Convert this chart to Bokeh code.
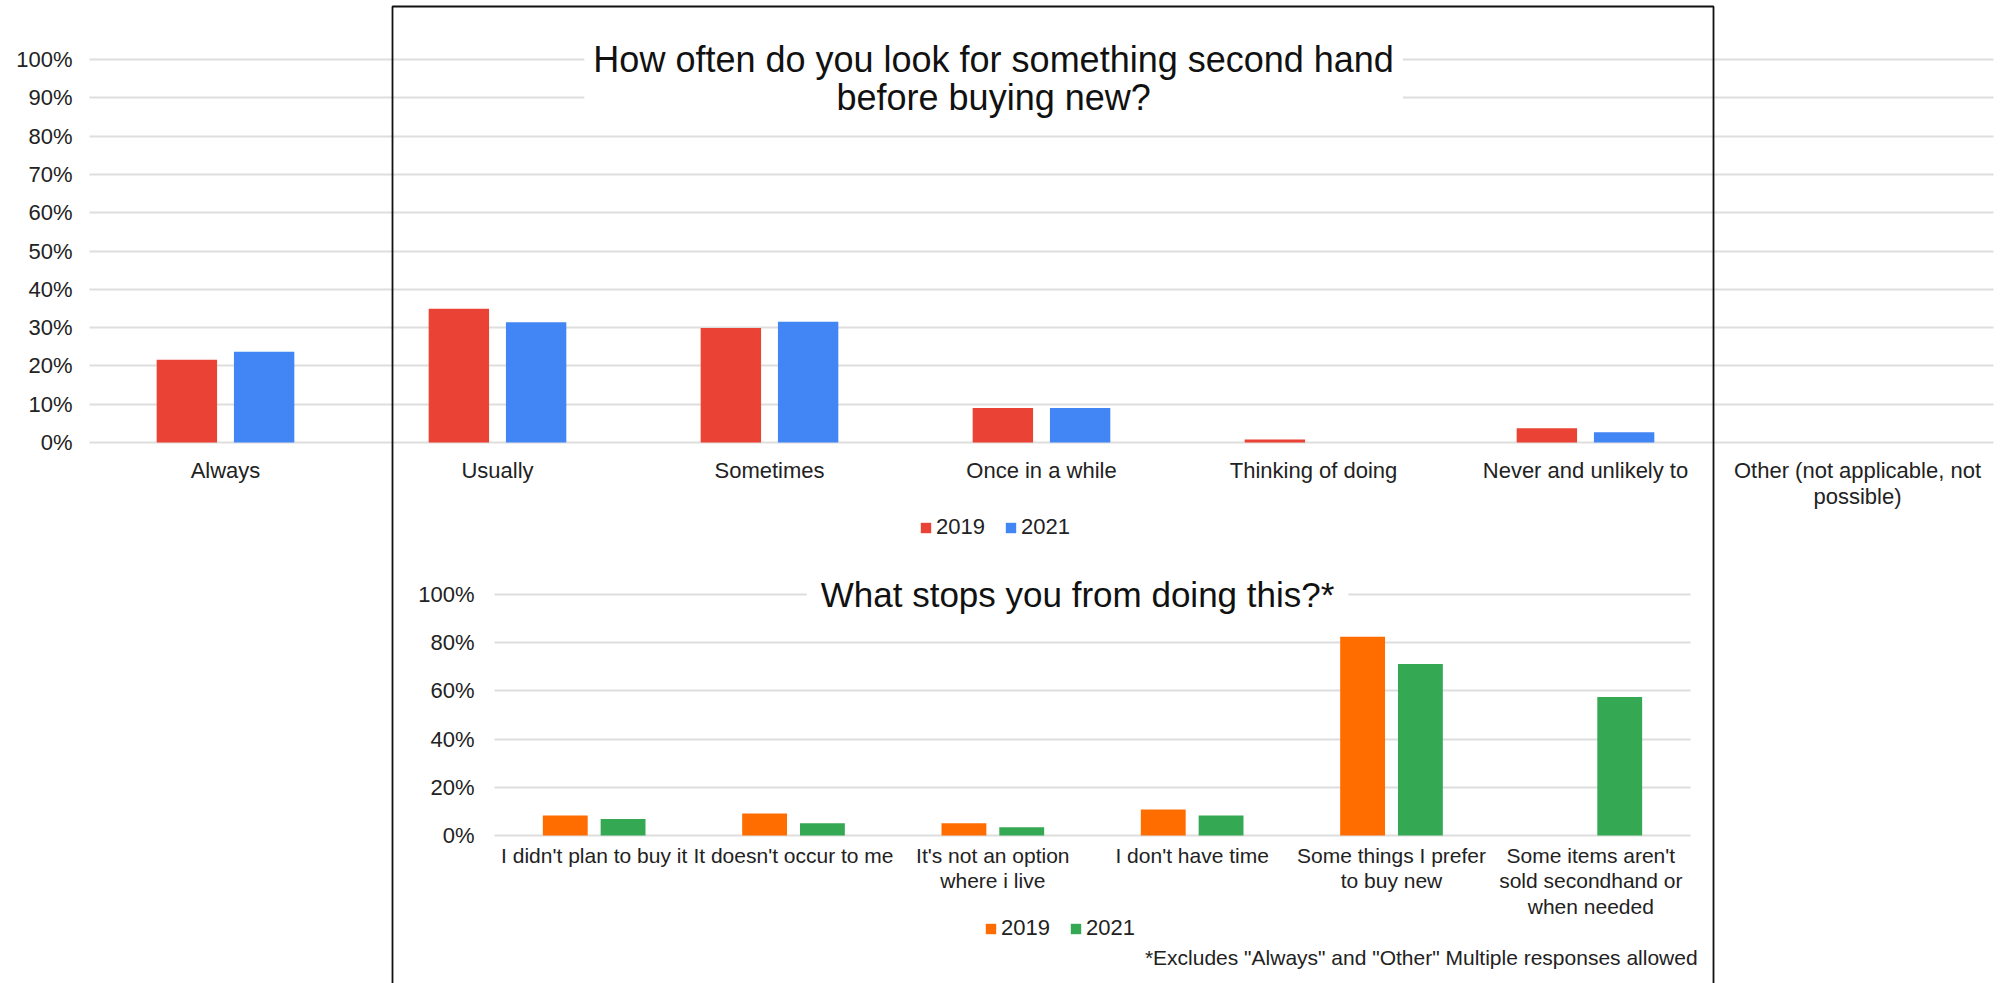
from bokeh.plotting import figure
from bokeh.models import (ColumnDataSource, Range1d, FixedTicker, LinearAxis,
                          NumeralTickFormatter, Label, Legend, LegendItem,
                          BoxAnnotation, Grid)
from bokeh.transform import dodge
from bokeh.embed import file_html
from bokeh.resources import INLINE

# ---------------- data ----------------
freq_categories = ["Always", "Usually", "Sometimes", "Once in a while",
                   "Thinking of doing", "Never and unlikely to",
                   "Other (not applicable, not\npossible)"]
freq_2019 = [0.216, 0.349, 0.299, 0.090, 0.008, 0.037, 0.0]
freq_2021 = [0.237, 0.314, 0.315, 0.090, 0.0, 0.027, 0.0]
freq_ticks = [0.0, 0.1, 0.2, 0.3, 0.4, 0.5, 0.6, 0.7, 0.8, 0.9, 1.0]

stop_categories = ["I didn't plan to buy it", "It doesn't occur to me",
                   "It's not an option\nwhere i live", "I don't have time",
                   "Some things I prefer\nto buy new",
                   "Some items aren't\nsold secondhand or\nwhen needed"]
stop_2019 = [0.083, 0.091, 0.051, 0.108, 0.825, 0.0]
stop_2021 = [0.068, 0.051, 0.034, 0.083, 0.712, 0.575]
stop_ticks = [0.0, 0.2, 0.4, 0.6, 0.8, 1.0]

years = ["2019", "2021"]
title_top = "How often do you look for something second hand\nbefore buying new?"
title_bottom = "What stops you from doing this?*"
footnote = '*Excludes "Always" and "Other"  Multiple responses allowed'

# ---------------- style / layout constants ----------------
W, H = 2015, 983
FONT = "Liberation Sans"
TXT = "#222222"
GRID = "#dedede"
RED, BLUE, ORANGE, GREEN = "#EA4335", "#4285F4", "#FF6D01", "#34A853"

# pixel placement of the two chart areas on the canvas
TOP_L, TOP_R, TOP_Y0, TOP_Y1 = 89, 1993, 442, 59      # 0% / 100% rows
BOT_L, BOT_R, BOT_Y0, BOT_Y1 = 494, 1690, 835, 594


def ranges_for(left, right, y0, y1, n):
    ux = (right - left) / n
    uy = (y0 - y1)
    xr = Range1d(-left / ux, (W - left) / ux)
    yr = Range1d((y0 - H) / uy, y0 / uy)
    return xr, yr


top_xr, top_yr = ranges_for(TOP_L, TOP_R, TOP_Y0, TOP_Y1, len(freq_categories))
bot_xr, bot_yr = ranges_for(BOT_L, BOT_R, BOT_Y0, BOT_Y1, len(stop_categories))

p = figure(width=W, height=H, x_range=top_xr, y_range=top_yr,
           x_axis_type=None, y_axis_type=None, title=None,
           output_backend="svg", toolbar_location=None, min_border=0,
           outline_line_color=None, background_fill_color="white",
           border_fill_color="white")
p.extra_x_ranges = {"stop": bot_xr}
p.extra_y_ranges = {"stop": bot_yr}


def add_axes(cats, ticks, n, rname, xfont, yfont, xstand, ystand, lh):
    centers = [i + 0.5 for i in range(n)]
    kw = {} if rname is None else dict(x_range_name=rname, y_range_name=rname)
    grid = Grid(dimension=1, ticker=FixedTicker(ticks=ticks),
                grid_line_color=GRID, grid_line_width=2,
                cross_bounds=(0, n), **kw)
    p.add_layout(grid)
    xa = LinearAxis(ticker=FixedTicker(ticks=centers),
                    major_label_overrides={c: t for c, t in zip(centers, cats)},
                    fixed_location=0, **kw)
    ya = LinearAxis(ticker=FixedTicker(ticks=ticks),
                    formatter=NumeralTickFormatter(format="0%"),
                    fixed_location=0, **kw)
    for ax, fs, st in ((xa, xfont, xstand), (ya, yfont, ystand)):
        ax.axis_line_color = None
        ax.major_tick_line_color = None
        ax.minor_tick_line_color = None
        ax.major_tick_out = 0
        ax.major_tick_in = 0
        ax.major_label_text_font = FONT
        ax.major_label_text_font_size = fs
        ax.major_label_text_color = TXT
        ax.major_label_standoff = st
    xa.major_label_text_line_height = lh
    p.add_layout(xa, "below")
    p.add_layout(ya, "left")
    return centers


def make_legend(r_a, r_b, loc):
    return Legend(items=[LegendItem(label=years[0], renderers=[r_a]),
                         LegendItem(label=years[1], renderers=[r_b])],
                  orientation="horizontal", location=loc,
                  glyph_width=13, glyph_height=13, label_standoff=4,
                  spacing=19, label_text_font=FONT,
                  label_text_font_size="22px", label_text_color=TXT,
                  padding=4, margin=0, border_line_color=None,
                  background_fill_alpha=0)


# ---------------- top chart ----------------
freq_x = add_axes(freq_categories, freq_ticks, len(freq_categories), None,
                  "22px", "22px", 15, 17, 1.07)
src1 = ColumnDataSource(dict(x=freq_x, a=freq_2019, b=freq_2021))
r1a = p.vbar(x=dodge("x", -0.142), top="a", width=0.222, source=src1,
             fill_color=RED, line_color=None)
r1b = p.vbar(x=dodge("x", 0.142), top="b", width=0.222, source=src1,
             fill_color=BLUE, line_color=None)
p.add_layout(Label(x=3.324, y=0.95, text=title_top, text_align="center",
                   text_baseline="middle", text_font=FONT,
                   text_font_size="36px", text_color="#111111",
                   text_line_height=0.93, background_fill_color="white",
                   padding=9))
p.add_layout(make_legend(r1a, r1b, (919, 443)))

# ---------------- bottom chart ----------------
stop_x = add_axes(stop_categories, stop_ticks, len(stop_categories), "stop",
                  "21px", "22px", 8, 20, 1.12)
src2 = ColumnDataSource(dict(x=stop_x, a=stop_2019, b=stop_2021))
r2a = p.vbar(x=dodge("x", -0.145), top="a", width=0.225, source=src2,
             fill_color=ORANGE, line_color=None,
             x_range_name="stop", y_range_name="stop")
r2b = p.vbar(x=dodge("x", 0.145), top="b", width=0.225, source=src2,
             fill_color=GREEN, line_color=None,
             x_range_name="stop", y_range_name="stop")
p.add_layout(Label(x=2.925, y=1.0, text=title_bottom, text_align="center",
                   text_baseline="middle", text_font=FONT,
                   text_font_size="35px", text_color="#111111",
                   background_fill_color="white", padding=14,
                   x_range_name="stop", y_range_name="stop"))
p.add_layout(make_legend(r2a, r2b, (984, 42)))
p.add_layout(Label(x=6.065, y=-0.506, text=footnote, text_align="right",
                   text_baseline="middle", text_font=FONT,
                   text_font_size="21px", text_color=TXT,
                   x_range_name="stop", y_range_name="stop"))

# ---------------- outline box around the inner panel ----------------
p.add_layout(BoxAnnotation(left=392, right=1713, top=6, bottom=3000,
                           left_units="canvas", right_units="canvas",
                           top_units="canvas", bottom_units="canvas",
                           fill_color=None, fill_alpha=0,
                           line_color="#111111", line_alpha=1.0,
                           line_width=1.8))

open("out.html", "w").write(file_html(p, INLINE))
